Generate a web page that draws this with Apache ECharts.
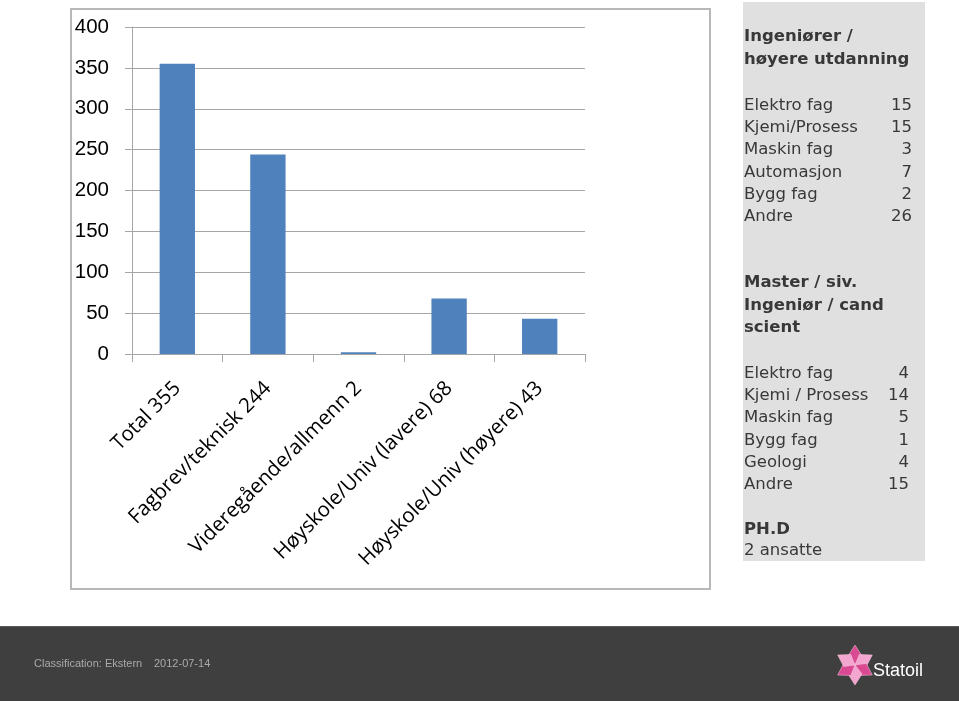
<!DOCTYPE html>
<html>
<head>
<meta charset="utf-8">
<script src="https://cdn.jsdelivr.net/npm/echarts@6/dist/echarts.min.js"></script>
<style>
html,body{margin:0;padding:0;background:#fff;}
#c{width:959px;height:701px;}
</style>
</head>
<body>
<div id="c"></div>
<script>
// ---- data ----
var categories = ['Total 355', 'Fagbrev/teknisk 244', 'Videregående/allmenn 2', 'Høyskole/Univ (lavere) 68', 'Høyskole/Univ (høyere) 43'];
var values = [355, 244, 2, 68, 43];
var yTicks = [0, 50, 100, 150, 200, 250, 300, 350, 400];

var group1Title = ['Ingeniører /', 'høyere utdanning'];
var group1Names = ['Elektro fag', 'Kjemi/Prosess', 'Maskin fag', 'Automasjon', 'Bygg fag', 'Andre'];
var group1Values = [15, 15, 3, 7, 2, 26];

var group2Title = ['Master / siv.', 'Ingeniør / cand', 'scient'];
var group2Names = ['Elektro fag', 'Kjemi / Prosess', 'Maskin fag', 'Bygg fag', 'Geologi', 'Andre'];
var group2Values = [4, 14, 5, 1, 4, 15];

var group3Title = ['PH.D'];
var group3Lines = ['2 ansatte'];

var footerText = 'Classification: Ekstern';
var footerDate = '2012-07-14';
var logoText = 'Statoil';

// ---- chart ----
var chart = echarts.init(document.getElementById('c'), null, {renderer: 'canvas'});
var gridColor = '#a6a6a6';
var txtColor = '#383838';
var panelFont = 'DejaVu Sans';
var panelSize = '16.5px';

var graphics = [];
// chart frame
graphics.push({type: 'rect', z: -10, shape: {x: 71, y: 9, width: 639, height: 580},
  style: {fill: '#fff', stroke: '#b8b8b8', lineWidth: 2}});
// side panel
graphics.push({type: 'rect', z: -10, shape: {x: 743, y: 2, width: 182, height: 559},
  style: {fill: '#e0e0e0'}});

function addLines(lines, y0, bold) {
  lines.forEach(function (t, i) {
    graphics.push({type: 'text', x: 744, y: y0 + i * 22.4,
      style: {text: t, fill: txtColor, font: (bold ? 'bold ' : '') + panelSize + ' "' + panelFont + '"', textAlign: 'left', verticalAlign: 'middle'}});
  });
}
function addRows(names, vals, y0, right) {
  names.forEach(function (t, i) {
    graphics.push({type: 'text', x: 744, y: y0 + i * 22.3,
      style: {text: t, fill: txtColor, font: panelSize + ' "' + panelFont + '"', textAlign: 'left', verticalAlign: 'middle'}});
    graphics.push({type: 'text', x: right, y: y0 + i * 22.3,
      style: {text: String(vals[i]), fill: txtColor, font: panelSize + ' "' + panelFont + '"', textAlign: 'right', verticalAlign: 'middle'}});
  });
}
addLines(group1Title, 37, true);
addRows(group1Names, group1Values, 105.5, 912);
addLines(group2Title, 283, true);
addRows(group2Names, group2Values, 373.5, 909);
addLines(group3Title, 530, true);
addLines(group3Lines, 551, false);

// footer
graphics.push({type: 'rect', z: -10, shape: {x: 0, y: 626, width: 959, height: 75}, style: {fill: '#3f3f3f'}});
graphics.push({type: 'rect', z: -9, shape: {x: 0, y: 626, width: 959, height: 1}, style: {fill: '#5a5a5a'}});
graphics.push({type: 'text', x: 34, y: 664, style: {text: footerText, fill: '#aaaaaa', font: '11px "Liberation Sans"', verticalAlign: 'middle'}});
graphics.push({type: 'text', x: 154, y: 664, style: {text: footerDate, fill: '#aaaaaa', font: '11px "Liberation Sans"', verticalAlign: 'middle'}});
// logo star (decorative)
var cx = 855, cy = 665;
for (var k = 0; k < 6; k++) {
  var a = (k * 60 - 90) * Math.PI / 180;
  var len = 20, w = 7;
  var tip = [cx + Math.cos(a) * len, cy + Math.sin(a) * len];
  var mid = [cx + Math.cos(a) * len * 0.45, cy + Math.sin(a) * len * 0.45];
  var px = -Math.sin(a) * w, py = Math.cos(a) * w;
  graphics.push({type: 'polygon', z: 5, shape: {points: [[cx, cy], [mid[0] + px, mid[1] + py], tip, [mid[0] - px, mid[1] - py]]},
    style: {fill: k % 2 ? '#f3a6cf' : '#d94a93', stroke: '#f7c9e0', lineWidth: 0.5}});
}
graphics.push({type: 'text', x: 873, y: 671, style: {text: logoText, fill: '#ffffff', font: '18px "Liberation Sans Narrow", "Liberation Sans"', verticalAlign: 'middle'}});

chart.setOption({
  animation: false,
  backgroundColor: '#ffffff',
  grid: {left: 132, right: 374, top: 27, bottom: 347, containLabel: false},
  xAxis: {
    type: 'category',
    data: categories,
    axisLine: {show: true, lineStyle: {color: gridColor, width: 1}},
    axisTick: {show: true, length: 8, alignWithLabel: false, lineStyle: {color: gridColor}},
    axisLabel: {interval: 0, rotate: 45, margin: 31, color: '#000', fontFamily: 'Open Sans', fontSize: 20.5}
  },
  yAxis: {
    type: 'value',
    min: yTicks[0], max: yTicks[yTicks.length - 1], interval: yTicks[1] - yTicks[0],
    axisLine: {show: true, lineStyle: {color: gridColor, width: 1}},
    axisTick: {show: true, length: 7, lineStyle: {color: gridColor}},
    splitLine: {show: true, lineStyle: {color: gridColor, width: 1}},
    axisLabel: {margin: 23, color: '#000', fontFamily: 'Liberation Sans', fontSize: 20.5}
  },
  series: [{
    type: 'bar',
    data: values,
    barWidth: '39%',
    itemStyle: {color: '#4f81bd'}
  }],
  graphic: graphics
});
</script>
</body>
</html>
